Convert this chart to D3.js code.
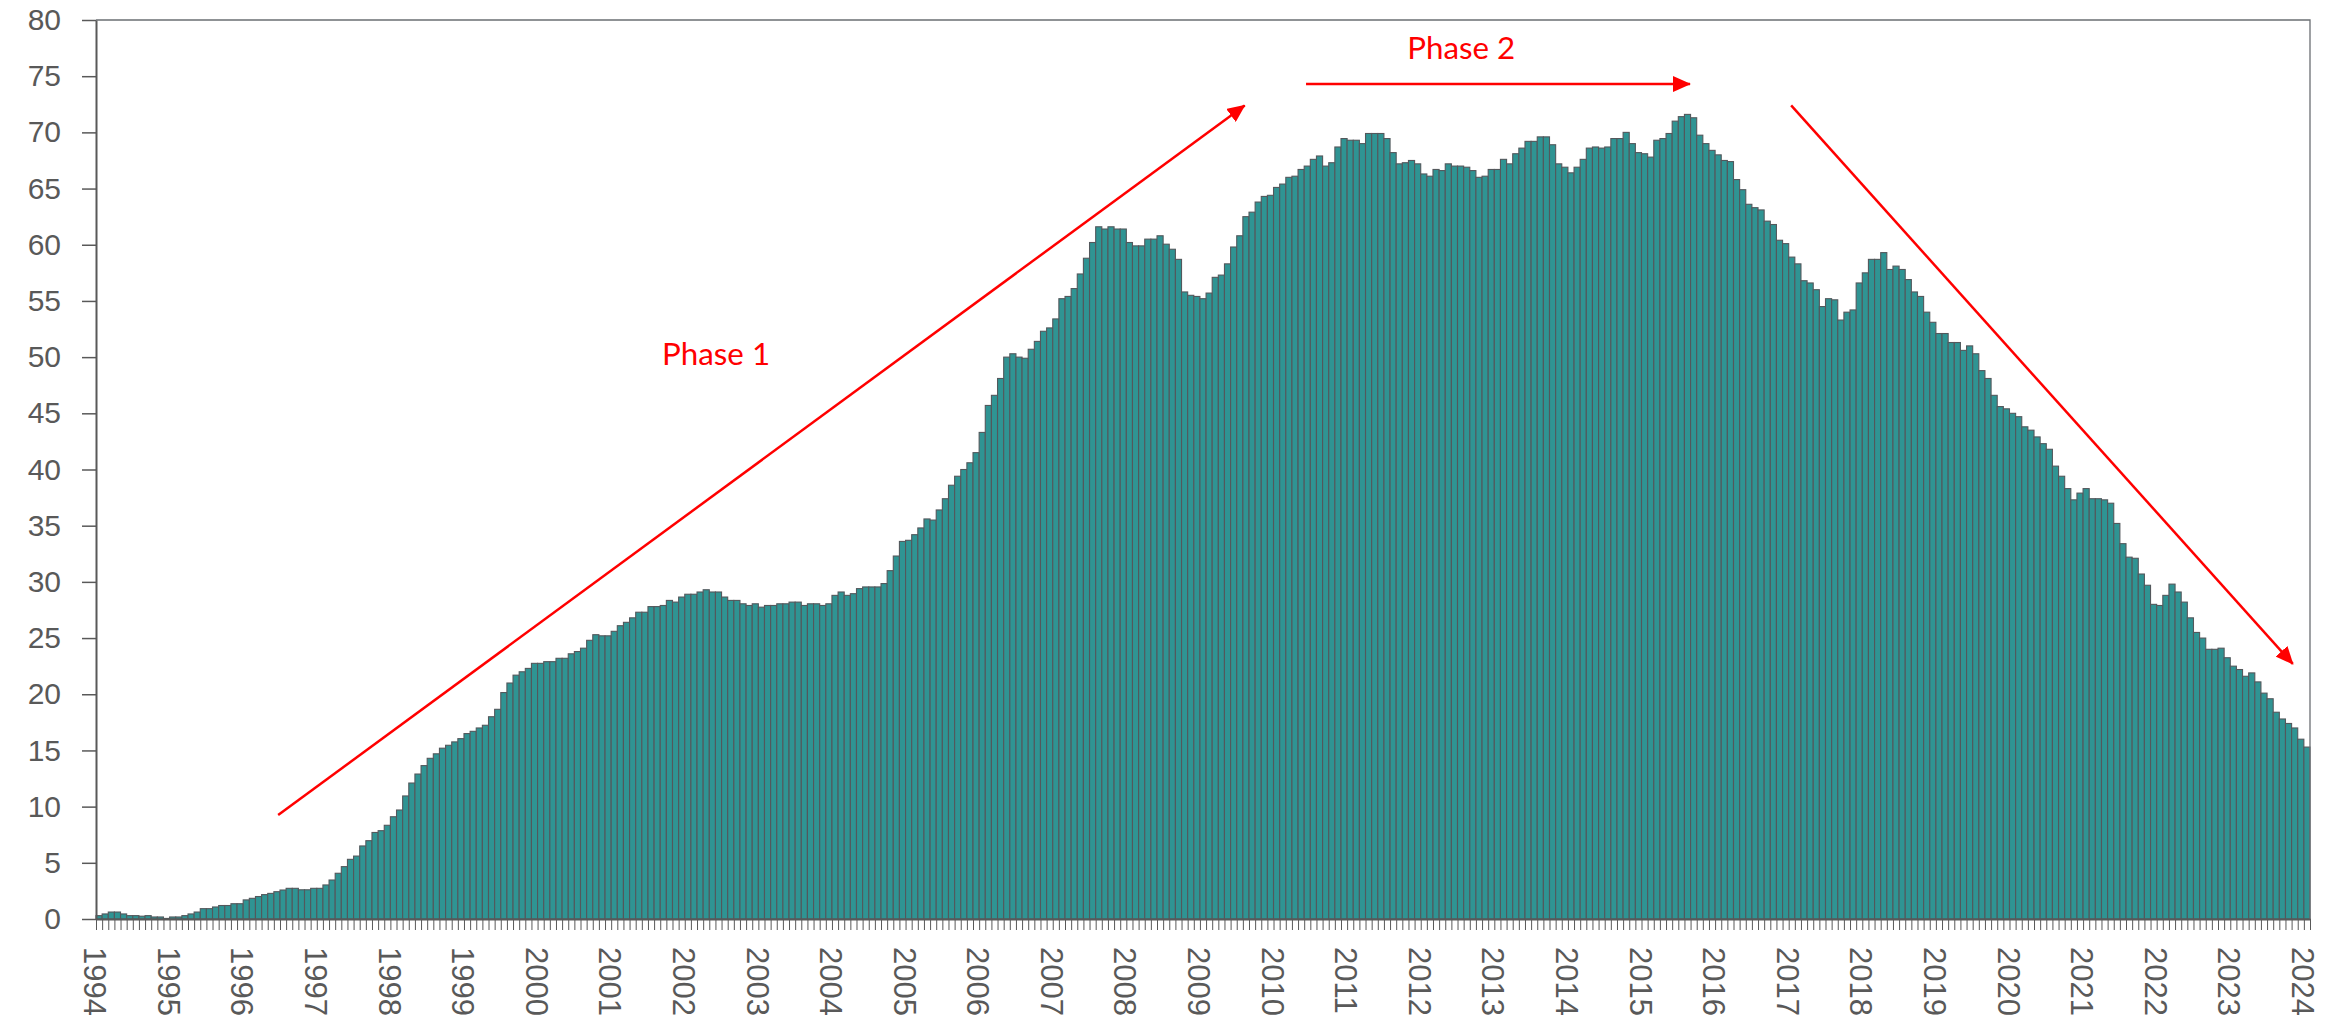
<!DOCTYPE html>
<html>
<head>
<meta charset="utf-8">
<script src="https://cdn.jsdelivr.net/npm/d3@7"></script>
<style>
  html, body { margin: 0; padding: 0; background: #fff; overflow: hidden; }
  .axis text { font-family: "Liberation Sans", Arial, sans-serif; fill: #595959; }
  .note { font-family: Lato, "Open Sans", sans-serif; fill: #ff0000; }
</style>
</head>
<body>
<div id="chart"></div>
<script>
// monthly values, Jan 1994 .. Jan 2024 (one row per year)
const values = [
  0.3, 0.45, 0.62, 0.62, 0.45, 0.3, 0.3, 0.25, 0.3, 0.18, 0.18, 0.05,
  0.18, 0.18, 0.3, 0.45, 0.62, 0.92, 0.92, 1.07, 1.2, 1.2, 1.36, 1.36,
  1.7, 1.84, 2.0, 2.17, 2.28, 2.43, 2.58, 2.73, 2.73, 2.6, 2.6, 2.73,
  2.73, 3.03, 3.47, 4.07, 4.66, 5.31, 5.6, 6.5, 6.97, 7.7, 7.86, 8.34,
  9.1, 9.7, 10.95, 12.1, 12.9, 13.65, 14.3, 14.7, 15.2, 15.46, 15.76, 16.05,
  16.5, 16.7, 17.0, 17.24, 18.0, 18.66, 20.15, 21.0, 21.7, 22.0, 22.3, 22.75,
  22.75, 22.9, 22.9, 23.2, 23.2, 23.6, 23.8, 24.1, 24.8, 25.3, 25.2, 25.2,
  25.6, 26.1, 26.4, 26.8, 27.3, 27.3, 27.8, 27.8, 27.9, 28.35, 28.2, 28.65,
  28.9, 28.9, 29.1, 29.3, 29.1, 29.1, 28.65, 28.35, 28.35, 28.05, 27.9, 28.05,
  27.75, 27.9, 27.9, 28.05, 28.05, 28.2, 28.2, 27.9, 28.05, 28.05, 27.9, 28.05,
  28.8, 29.1, 28.8, 28.95, 29.4, 29.55, 29.55, 29.55, 29.85, 31.0, 32.3, 33.6,
  33.7, 34.2, 34.8, 35.6, 35.5, 36.4, 37.4, 38.6, 39.4, 40.0, 40.6, 41.5,
  43.3, 45.7, 46.6, 48.1, 50.0, 50.3, 50.0, 49.9, 50.7, 51.4, 52.3, 52.6,
  53.4, 55.2, 55.4, 56.1, 57.4, 58.8, 60.2, 61.6, 61.4, 61.6, 61.4, 61.4,
  60.2, 59.9, 59.9, 60.5, 60.5, 60.8, 60.05, 59.6, 58.7, 55.8, 55.5, 55.4,
  55.2, 55.7, 57.1, 57.3, 58.3, 59.8, 60.8, 62.5, 62.9, 63.8, 64.3, 64.4,
  65.1, 65.4, 66.0, 66.1, 66.7, 67.0, 67.6, 67.9, 67.0, 67.3, 68.7, 69.45,
  69.3, 69.3, 69.0, 69.9, 69.9, 69.9, 69.45, 68.2, 67.2, 67.3, 67.5, 67.2,
  66.3, 66.1, 66.7, 66.6, 67.2, 67.0, 67.0, 66.9, 66.6, 66.0, 66.1, 66.7,
  66.7, 67.6, 67.2, 68.1, 68.6, 69.2, 69.2, 69.6, 69.6, 68.9, 67.2, 66.9,
  66.4, 66.9, 67.6, 68.6, 68.7, 68.6, 68.7, 69.45, 69.45, 70.0, 69.0, 68.2,
  68.1, 67.8, 69.3, 69.45, 69.9, 71.0, 71.4, 71.6, 71.3, 69.75, 69.0, 68.4,
  68.0, 67.5, 67.4, 65.8, 64.9, 63.6, 63.3, 63.1, 62.1, 61.8, 60.4, 60.1,
  58.9, 58.3, 56.8, 56.6, 56.0, 54.5, 55.2, 55.1, 53.3, 54.0, 54.2, 56.6,
  57.5, 58.7, 58.7, 59.3, 57.8, 58.1, 57.8, 56.9, 55.8, 55.4, 54.0, 53.1,
  52.1, 52.1, 51.3, 51.3, 50.6, 51.0, 50.3, 48.8, 48.1, 46.6, 45.6, 45.4,
  45.0, 44.7, 43.8, 43.5, 42.9, 42.3, 41.8, 40.3, 39.4, 38.3, 37.3, 37.9,
  38.3, 37.4, 37.4, 37.3, 37.0, 35.2, 33.4, 32.2, 32.1, 30.7, 29.7, 28.0,
  27.9, 28.8, 29.8, 29.1, 28.2, 26.8, 25.5, 25.0, 24.0, 24.0, 24.1, 23.25,
  22.5, 22.2, 21.6, 21.9, 21.1, 20.1, 19.6, 18.4, 17.8, 17.4, 17.0, 16.0,
  15.3
];

const years = [1994, 1995, 1996, 1997, 1998, 1999, 2000, 2001, 2002, 2003,
  2004, 2005, 2006, 2007, 2008, 2009, 2010, 2011, 2012, 2013, 2014, 2015,
  2016, 2017, 2018, 2019, 2020, 2021, 2022, 2023, 2024];

const yTicks = [0, 5, 10, 15, 20, 25, 30, 35, 40, 45, 50, 55, 60, 65, 70, 75, 80];

// month categories "1994-01" ...
const months = values.map((v, i) => `${years[0] + Math.floor(i / 12)}-${String(i % 12 + 1).padStart(2, "0")}`);

const margin = {top: 20, right: 36, bottom: 102, left: 96},
      width = 2346 - margin.left - margin.right,
      height = 1021 - margin.top - margin.bottom;

const svg = d3.select("#chart")
  .append("svg")
  .attr("width", 2346)
  .attr("height", 1021);

svg.append("defs").append("marker")
  .attr("id", "head")
  .attr("markerUnits", "userSpaceOnUse")
  .attr("viewBox", "0 0 18 16")
  .attr("refX", 17).attr("refY", 8)
  .attr("markerWidth", 18).attr("markerHeight", 16)
  .attr("orient", "auto")
  .append("path")
  .attr("d", "M0,0 L18,8 L0,16 Z")
  .attr("fill", "#ff0000");

const g = svg.append("g")
  .attr("transform", `translate(${margin.left},${margin.top})`);

const x = d3.scaleBand()
  .domain(months)
  .range([0, width])
  .padding(0);

// index scale for ticks between the bars
const xi = d3.scaleLinear()
  .domain([0, months.length])
  .range([0, width]);

const y = d3.scaleLinear()
  .domain([0, 80])
  .range([height, 0]);

// bars
g.append("g")
  .selectAll("rect")
  .data(values)
  .enter()
  .append("rect")
  .attr("x", (d, i) => x(months[i]))
  .attr("y", d => y(d))
  .attr("width", x.bandwidth())
  .attr("height", d => height - y(d))
  .attr("fill", "#2f9493")
  .attr("stroke", "#53585c")
  .attr("stroke-width", 1.1);

// plot border (top + right)
g.append("path")
  .attr("d", `M0,0 H${width} V${height}`)
  .attr("fill", "none")
  .attr("stroke", "#6b6f73")
  .attr("stroke-width", 1.3);

// y axis
const yAxis = g.append("g")
  .attr("class", "axis")
  .call(d3.axisLeft(y).tickValues(yTicks).tickSize(14).tickSizeOuter(0).tickPadding(21));
yAxis.selectAll("line").attr("stroke", "#595959").attr("stroke-width", 1.5);
yAxis.select(".domain").attr("stroke", "#595959").attr("stroke-width", 2);
yAxis.selectAll("text").style("font-size", "30px");

// x axis: a tick at every month boundary
const xAxis = g.append("g")
  .attr("class", "axis")
  .attr("transform", `translate(0,${height})`)
  .call(d3.axisBottom(xi).tickValues(d3.range(0, months.length + 1)).tickSize(11).tickSizeOuter(0).tickFormat(""));
xAxis.selectAll("line").attr("stroke", "#595959").attr("stroke-width", 1);
xAxis.select(".domain").attr("stroke", "#595959").attr("stroke-width", 2);

// year labels, rotated
g.append("g")
  .attr("class", "axis")
  .selectAll("text")
  .data(years)
  .enter()
  .append("text")
  .attr("transform", (d, i) => `translate(${xi(i * 12) - 1},${height + 28}) rotate(90)`)
  .attr("dy", "0.35em")
  .style("font-size", "31px")
  .text(d => d);

// phase annotations, given as [month index, value]
const arrows = [
  [[29.7, 9.25], [187.3, 72.4]],
  [[197.3, 74.3], [259.9, 74.3]],
  [[276.4, 72.4], [358.2, 22.7]]
];
g.append("g")
  .selectAll("line")
  .data(arrows)
  .enter()
  .append("line")
  .attr("x1", d => xi(d[0][0]))
  .attr("y1", d => y(d[0][1]))
  .attr("x2", d => xi(d[1][0]))
  .attr("y2", d => y(d[1][1]))
  .attr("stroke", "#ff0000")
  .attr("stroke-width", 2.5)
  .attr("marker-end", "url(#head)");

const notes = [
  {label: "Phase 1", at: [92.3, 49.3]},
  {label: "Phase 2", at: [213.8, 76.5]}
];
g.append("g")
  .selectAll("text")
  .data(notes)
  .enter()
  .append("text")
  .attr("class", "note")
  .attr("x", d => xi(d.at[0]))
  .attr("y", d => y(d.at[1]))
  .attr("textLength", 108)
  .attr("lengthAdjust", "spacingAndGlyphs")
  .style("font-size", "31px")
  .text(d => d.label);
</script>
</body>
</html>
